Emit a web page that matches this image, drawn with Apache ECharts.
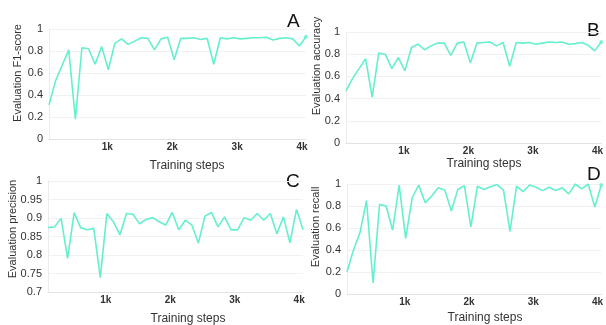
<!DOCTYPE html>
<html>
<head>
<meta charset="utf-8">
<script src="https://cdn.jsdelivr.net/npm/echarts@6/dist/echarts.min.js"></script>
<style>html,body{margin:0;padding:0;background:#fff}#c{width:606px;height:325px}</style>
</head>
<body>
<div id="c"></div>
<script>
const steps = [102,203,305,406,508,609,711,812,914,1015,1117,1218,1320,1421,1523,1624,1726,1827,1929,2030,2132,2233,2335,2436,2538,2639,2741,2842,2944,3045,3147,3248,3350,3451,3553,3654,3756,3857,3959,4060];
const f1Score = [0.31,0.53,0.67,0.81,0.18,0.83,0.82,0.68,0.84,0.63,0.87,0.91,0.86,0.89,0.92,0.915,0.81,0.91,0.925,0.72,0.915,0.915,0.92,0.905,0.915,0.68,0.92,0.91,0.92,0.91,0.915,0.92,0.92,0.925,0.9,0.915,0.92,0.91,0.845,0.93];
const accuracy = [0.47,0.58,0.67,0.76,0.41,0.81,0.80,0.67,0.77,0.65,0.86,0.89,0.84,0.875,0.90,0.90,0.79,0.90,0.91,0.72,0.90,0.905,0.91,0.875,0.905,0.69,0.905,0.90,0.905,0.89,0.90,0.91,0.905,0.91,0.89,0.895,0.905,0.88,0.83,0.91];
const precision = [0.874,0.876,0.899,0.791,0.914,0.874,0.868,0.872,0.739,0.912,0.89,0.854,0.912,0.91,0.884,0.896,0.901,0.89,0.881,0.915,0.868,0.894,0.881,0.832,0.905,0.915,0.876,0.903,0.868,0.868,0.901,0.894,0.912,0.894,0.912,0.857,0.903,0.833,0.923,0.868];
const recall = [0.2,0.40,0.56,0.85,0.1,0.815,0.80,0.58,0.99,0.505,0.875,0.99,0.83,0.89,0.965,0.945,0.755,0.95,0.985,0.61,0.98,0.95,0.975,0.995,0.945,0.57,0.98,0.93,0.99,0.97,0.94,0.97,0.94,0.965,0.91,1.0,0.955,1.0,0.79,0.99];
const xTickValues = [1000,2000,3000,4000];
const xTickLabels = ['1k','2k','3k','4k'];
const panelLetters = ['A','B','C','D'];
const yTitles = ['Evaluation F1-score','Evaluation accuracy','Evaluation precision','Evaluation recall'];

const FONT = 'Liberation Sans, Arial, sans-serif';
const LINE = '#66efcf';
const grids = [
  {left:49, right:300, top:29, height:110},
  {left:346, right:3, top:32, height:111},
  {left:48, right:303, top:181, height:111},
  {left:347, right:3, top:184, height:110}
];
const yRanges = [[0,1,0.2],[0,1,0.2],[0.7,1,0.05],[0,1,0.2]];
const seriesData = [f1Score, accuracy, precision, recall];

const xAxes = grids.map((g,i)=>({
  type:'value', gridIndex:i, min:steps[0], max:steps[steps.length-1],
  axisLine:{show:true, lineStyle:{color:'#e2e2e2', width:1}},
  axisTick:{show:false},
  splitLine:{show:false},
  axisLabel:{customValues:xTickValues, formatter:v=>xTickLabels[xTickValues.indexOf(v)]||'', color:'#333', fontSize:10, fontWeight:'bold', fontFamily:FONT, margin:3}
}));
const yAxes = grids.map((g,i)=>({
  type:'value', gridIndex:i, min:yRanges[i][0], max:yRanges[i][1], interval:yRanges[i][2],
  axisLine:{show:true, lineStyle:{color:'#ececec', width:1}},
  axisTick:{show:false},
  splitLine:{show:true, lineStyle:{color:'#f1f1f1', width:1}},
  axisLabel:{formatter:v=>String(+v.toFixed(2)), color:'#333', fontSize:11, fontFamily:FONT, margin:6}
}));
const series = seriesData.map((d,i)=>({
  type:'line', xAxisIndex:i, yAxisIndex:i, data:steps.map((s,j)=>[s,d[j]]),
  showSymbol:false, symbol:'none', lineStyle:{color:LINE, width:1.6}, animation:false, silent:true
}));
[0,1,3].forEach(i=>{
  const d = seriesData[i];
  series.push({type:'scatter', xAxisIndex:i, yAxisIndex:i, data:[[steps[steps.length-1], d[d.length-1]]],
    symbolSize:4, itemStyle:{color:LINE}, animation:false, silent:true});
});

const letterPos = [[287,12],[587,21],[286,172],[587,165]];
const yTitlePos = [[18,73],[317,66],[13,229],[316,227]];
const xTitlePos = [[187,166],[484,164],[188,319],[485,318]];
const graphic = [];
panelLetters.forEach((t,i)=>graphic.push({type:'text', left:letterPos[i][0], top:letterPos[i][1],
  style:{text:t, fontSize:19, fontFamily:FONT, fill:'#111'}}));
yTitles.forEach((t,i)=>graphic.push({type:'text', x:yTitlePos[i][0], y:yTitlePos[i][1], rotation:Math.PI/2,
  style:{text:t, fontSize:11, fontFamily:FONT, fill:'#333', align:'center', verticalAlign:'middle'}}));
xTitlePos.forEach((p,i)=>graphic.push({type:'text', x:p[0], y:p[1],
  style:{text:'Training steps', fontSize:12, fontFamily:FONT, fill:'#333', align:'center', verticalAlign:'middle'}}));

const chart = echarts.init(document.getElementById('c'), null, {renderer:'canvas'});
chart.setOption({animation:false, backgroundColor:'#fff', grid:grids, xAxis:xAxes, yAxis:yAxes, series, graphic});
</script>
</body>
</html>
